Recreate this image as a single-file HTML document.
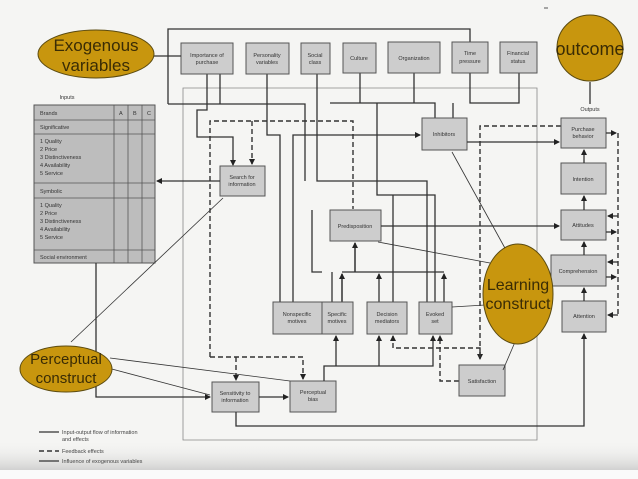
<!DOCTYPE html>
<html><head><meta charset="utf-8"><style>
html,body{margin:0;padding:0;background:#f5f5f3;}
svg{display:block;}
text{font-family:"Liberation Sans",sans-serif;}
.b{fill:#cdcdcd;stroke:#555;stroke-width:1;}
.t{font-size:5.5px;fill:#333;text-anchor:middle;}
.l{fill:none;stroke:#333;stroke-width:1.3;}
.d{fill:none;stroke:#333;stroke-width:1.4;stroke-dasharray:5,3;}
.g{fill:none;stroke:#888;stroke-width:0.8;}
.e{fill:#c8960e;stroke:#5a4a10;stroke-width:1;}
.et{fill:#3a2c05;text-anchor:middle;}
</style></head><body>
<svg width="638" height="479" viewBox="0 0 638 479" xmlns="http://www.w3.org/2000/svg">
<defs>
<marker id="a" markerWidth="6" markerHeight="6" refX="5" refY="3" orient="auto" markerUnits="userSpaceOnUse"><path d="M0,0 L6,3 L0,6 z" fill="#222"/></marker>
<linearGradient id="bg" x1="0" y1="0" x2="0" y2="1"><stop offset="0" stop-color="#f5f5f3" stop-opacity="0"/><stop offset="1" stop-color="#b8b8b8"/></linearGradient>
</defs>
<rect x="0" y="440" width="638" height="39" fill="url(#bg)"/>
<rect x="0" y="470" width="638" height="9" fill="#fafafa"/>
<line x1="544" y1="8" x2="548" y2="8" stroke="#555"/>

<!-- thin frame -->
<path class="g" d="M183,440 V88 H537 V440 Z"/>

<!-- exogenous outer line -->
<path class="l" d="M168,104 V29 H470 V42"/>
<path class="l" d="M168,104 H305 V181"/>
<path class="l" d="M220,74 V104"/>
<path class="l" d="M207,74 V110 H197 V137 H233 V165" marker-end="url(#a)"/>
<path class="l" d="M267,74 V135 H280 V302"/>
<path class="l" d="M317,74 V181 H427 V302"/>
<path class="l" d="M293,302 V135 H420" marker-end="url(#a)"/>
<path class="l" d="M360,73 V103 M414,73 V103 M330,103 H435 V118"/>
<path class="l" d="M377,103 V195 H435 V302"/>
<path class="l" d="M470,73 V103 H519 V73 M453,103 V118"/>
<path class="l" d="M393,195 V302"/>
<path class="l" d="M312,210 V272 H322 M332,302 V272"/>

<!-- boxes top -->
<rect class="b" x="181" y="43" width="52" height="31"/><text class="t" x="207" y="57">Importance of</text><text class="t" x="207" y="64">purchase</text>
<rect class="b" x="246" y="43" width="43" height="31"/><text class="t" x="267" y="57">Personality</text><text class="t" x="267" y="64">variables</text>
<rect class="b" x="301" y="43" width="29" height="31"/><text class="t" x="315" y="57">Social</text><text class="t" x="315" y="64">class</text>
<rect class="b" x="343" y="43" width="33" height="30"/><text class="t" x="359" y="60">Culture</text>
<rect class="b" x="388" y="42" width="52" height="31"/><text class="t" x="414" y="60">Organization</text>
<rect class="b" x="452" y="42" width="36" height="31"/><text class="t" x="470" y="55">Time</text><text class="t" x="470" y="63">pressure</text>
<rect class="b" x="500" y="42" width="37" height="31"/><text class="t" x="518" y="55">Financial</text><text class="t" x="518" y="63">status</text>

<!-- exogenous ellipse -->
<line class="l" x1="154" y1="56" x2="181" y2="56"/>
<ellipse class="e" cx="96" cy="54" rx="58" ry="24"/>
<text class="et" x="96" y="51" font-size="17">Exogenous</text>
<text class="et" x="96" y="71" font-size="17">variables</text>

<!-- outcome -->
<line class="l" x1="590" y1="82" x2="590" y2="104"/>
<circle class="e" cx="590" cy="48" r="33"/>
<text class="et" x="590" y="55" font-size="18">outcome</text>
<text class="t" x="590" y="111">Outputs</text>

<!-- table -->
<text class="t" x="67" y="99">Inputs</text>
<rect x="34" y="105" width="121" height="158" fill="#bdbdbd" stroke="#555"/>
<g stroke="#555" stroke-width="0.8">
<line x1="114" y1="105" x2="114" y2="263"/><line x1="128" y1="105" x2="128" y2="263"/><line x1="142" y1="105" x2="142" y2="263"/>
<line x1="34" y1="120" x2="155" y2="120"/><line x1="34" y1="134" x2="155" y2="134"/><line x1="34" y1="183" x2="155" y2="183"/><line x1="34" y1="198" x2="155" y2="198"/><line x1="34" y1="250" x2="155" y2="250"/>
</g>
<g font-size="5.5" fill="#333">
<text x="40" y="115">Brands</text><text x="119" y="115">A</text><text x="133" y="115">B</text><text x="147" y="115">C</text>
<text x="40" y="129">Significative</text>
<text x="40" y="143">1  Quality</text><text x="40" y="151">2  Price</text><text x="40" y="159">3  Distinctiveness</text><text x="40" y="167">4  Availability</text><text x="40" y="175">5  Service</text>
<text x="40" y="193">Symbolic</text>
<text x="40" y="207">1  Quality</text><text x="40" y="215">2  Price</text><text x="40" y="223">3  Distinctiveness</text><text x="40" y="231">4  Availability</text><text x="40" y="239">5  Service</text>
<text x="40" y="259">Social environment</text>
</g>

<!-- search -->
<path class="d" d="M210,357 V121 H353 V209"/>
<path class="d" d="M252,121 V164" marker-end="url(#a)"/>
<rect class="b" x="220" y="166" width="45" height="30"/><text class="t" x="242" y="179">Search for</text><text class="t" x="242" y="186">information</text>
<line class="l" x1="220" y1="181" x2="157" y2="181" marker-end="url(#a)"/>
<path class="d" d="M210,357 H303 V379" marker-end="url(#a)"/>
<path class="d" d="M236,357 V380" marker-end="url(#a)"/>

<!-- inhibitors -->
<rect class="b" x="422" y="118" width="45" height="32"/><text class="t" x="444" y="136">Inhibitors</text>
<line class="l" x1="467" y1="142" x2="559" y2="142" marker-end="url(#a)"/>
<path class="d" d="M561,126 H480 V359" marker-end="url(#a)"/>

<!-- predisposition -->
<rect class="b" x="330" y="210" width="51" height="31"/><text class="t" x="355" y="228">Predisposition</text>
<line class="l" x1="381" y1="226" x2="559" y2="226" marker-end="url(#a)"/>
<path class="l" d="M342,302 V274 M342,272 H444 M355,272 V243"/>
<line class="l" x1="355" y1="272" x2="355" y2="243" marker-end="url(#a)"/>
<line class="l" x1="342" y1="302" x2="342" y2="274" marker-end="url(#a)"/>
<line class="l" x1="379" y1="302" x2="379" y2="274" marker-end="url(#a)"/>
<line class="l" x1="444" y1="302" x2="444" y2="274" marker-end="url(#a)"/>

<!-- mid row -->
<rect class="b" x="273" y="302" width="49" height="32"/><text class="t" x="297" y="316">Nonspecific</text><text class="t" x="297" y="323">motives</text>
<rect class="b" x="322" y="302" width="31" height="32"/><text class="t" x="337" y="316">Specific</text><text class="t" x="337" y="323">motives</text>
<rect class="b" x="367" y="302" width="40" height="32"/><text class="t" x="387" y="316">Decision</text><text class="t" x="387" y="323">mediators</text>
<rect class="b" x="419" y="302" width="33" height="32"/><text class="t" x="435" y="316">Evoked</text><text class="t" x="435" y="323">set</text>

<!-- outputs -->
<rect class="b" x="561" y="118" width="45" height="30"/><text class="t" x="583" y="131">Purchase</text><text class="t" x="583" y="138">behavior</text>
<rect class="b" x="561" y="163" width="45" height="31"/><text class="t" x="583" y="181">Intention</text>
<rect class="b" x="561" y="210" width="45" height="30"/><text class="t" x="583" y="227">Attitudes</text>
<rect class="b" x="551" y="255" width="55" height="31"/><text class="t" x="578" y="273">Comprehension</text>
<rect class="b" x="562" y="301" width="44" height="31"/><text class="t" x="584" y="318">Attention</text>
<line class="l" x1="584" y1="163" x2="584" y2="150" marker-end="url(#a)"/>
<line class="l" x1="584" y1="210" x2="584" y2="196" marker-end="url(#a)"/>
<line class="l" x1="584" y1="255" x2="584" y2="242" marker-end="url(#a)"/>
<line class="l" x1="584" y1="301" x2="584" y2="288" marker-end="url(#a)"/>
<path class="d" d="M618,133 V315"/>
<line class="l" x1="606" y1="133" x2="616" y2="133" marker-end="url(#a)"/>
<line class="l" x1="618" y1="216" x2="608" y2="216" marker-end="url(#a)"/>
<line class="l" x1="606" y1="232" x2="616" y2="232" marker-end="url(#a)"/>
<line class="l" x1="618" y1="262" x2="608" y2="262" marker-end="url(#a)"/>
<line class="l" x1="606" y1="277" x2="616" y2="277" marker-end="url(#a)"/>
<line class="l" x1="618" y1="315" x2="608" y2="315" marker-end="url(#a)"/>

<!-- lower -->
<path class="l" d="M96,263 V397 H210" marker-end="url(#a)"/>
<rect class="b" x="212" y="382" width="47" height="30"/><text class="t" x="235" y="395">Sensitivity to</text><text class="t" x="235" y="402">information</text>
<line class="l" x1="259" y1="397" x2="288" y2="397" marker-end="url(#a)"/>
<rect class="b" x="290" y="381" width="46" height="31"/><text class="t" x="313" y="394">Perceptual</text><text class="t" x="313" y="401">bias</text>
<path class="l" d="M324,381 V366 H433 V336" marker-end="url(#a)"/>
<line class="l" x1="336" y1="366" x2="336" y2="336" marker-end="url(#a)"/>
<line class="l" x1="379" y1="366" x2="379" y2="336" marker-end="url(#a)"/>
<path class="l" d="M236,412 V426 H584 V334" marker-end="url(#a)"/>
<path class="d" d="M480,357 V348 H393 V336" marker-end="url(#a)"/>
<path class="d" d="M459,381 H440 V336" marker-end="url(#a)"/>
<rect class="b" x="459" y="365" width="46" height="31"/><text class="t" x="482" y="383">Satisfaction</text>

<!-- learning construct -->
<g stroke="#333" stroke-width="0.8">
<line x1="452" y1="152" x2="506" y2="250"/>
<line x1="378" y1="242" x2="490" y2="263"/>
<line x1="452" y1="307" x2="485" y2="305"/>
<line x1="503" y1="370" x2="515" y2="342"/>
<line x1="71" y1="342" x2="223" y2="198"/>
<line x1="108" y1="368" x2="210" y2="395"/>
<line x1="110" y1="358" x2="290" y2="381"/>
</g>
<ellipse class="e" cx="518" cy="294" rx="35" ry="50"/>
<text class="et" x="518" y="290" font-size="16">Learning</text>
<text class="et" x="518" y="309" font-size="16">construct</text>

<ellipse class="e" cx="66" cy="369" rx="46" ry="23"/>
<text class="et" x="66" y="364" font-size="15">Perceptual</text>
<text class="et" x="66" y="383" font-size="15">construct</text>

<!-- legend -->
<line class="l" x1="39" y1="432" x2="59" y2="432"/>
<line class="d" x1="39" y1="451" x2="59" y2="451" stroke-dasharray="6,3"/>
<line class="l" x1="39" y1="461" x2="59" y2="461"/>
<g font-size="5.5" fill="#444">
<text x="62" y="434">Input-output flow of information</text>
<text x="62" y="441">and effects</text>
<text x="62" y="453">Feedback effects</text>
<text x="62" y="463">Influence of exogenous variables</text>
</g>
</svg>
</body></html>
